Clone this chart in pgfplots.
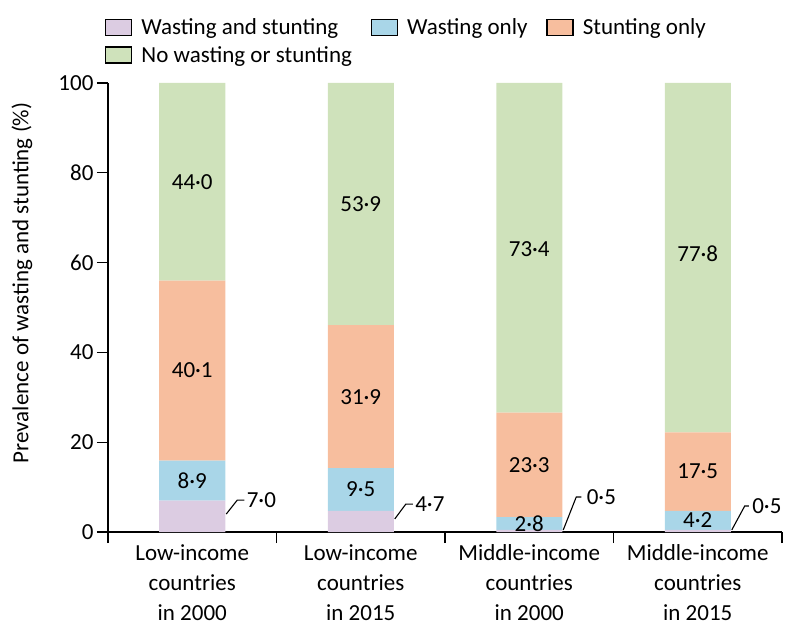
\documentclass[border=0pt]{standalone}
\usepackage{pgfplots}
\pgfplotsset{compat=1.18}
\usepackage{fontspec}
\setmainfont{Carlito}
\definecolor{cWS}{RGB}{220,204,226}
\definecolor{cW}{RGB}{169,214,232}
\definecolor{cS}{RGB}{247,190,158}
\definecolor{cN}{RGB}{207,226,187}
\newcommand{\fs}{\fontsize{23}{30}\selectfont}
\begin{document}
\begin{tikzpicture}[font=\fs]
\useasboundingbox (-108pt,-111pt) rectangle (692pt,532pt);
\begin{axis}[
  at={(0,0)}, anchor=south west,
  scale only axis, width=674pt, height=449pt,
  ybar stacked, bar width=66pt,
  xmin=-0.5, xmax=3.5, ymin=0, ymax=100,
  axis lines*=left,
  axis line style={line width=1.3pt},
  tick style={line width=1.3pt, black},
  tick align=outside, major tick length=11pt,
  ytick={0,20,40,60,80,100},
  /pgf/number format/assume math mode=true,
  yticklabel style={font=\fs},
  xtick={-0.5,0.5,1.5,2.5,3.5}, xticklabels={},
  extra x ticks={0,1,2,3},
  extra x tick labels={{Low-income\\countries\\in 2000},{Low-income\\countries\\in 2015},{Middle-income\\countries\\in 2000},{Middle-income\\countries\\in 2015}},
  extra x tick style={major tick length=0pt, xticklabel style={align=center, font=\fs, yshift=-9pt}},
  ylabel={Prevalence of wasting and stunting (\%)},
  ylabel style={at={(axis description cs:-0.1276,0.555)}, anchor=center, font=\fs},
  legend columns=3,
  legend cell align=left,
  legend style={at={(axis description cs:-0.009,1.152)}, anchor=north west, draw=none, fill=none, font=\fs,
    nodes={inner sep=2pt}, row sep=6pt,
    /tikz/every odd column/.append style={column sep=7pt},
    /tikz/every even column/.append style={column sep=17pt}},
  legend image code/.code={\draw[#1, draw=black, line width=1.3pt] (0pt,-8pt) rectangle (26pt,8pt);},
  after end axis/.code={
    \node[font=\fs] at (axis cs:0,11.45) {8·9};
    \node[font=\fs] at (axis cs:0,35.95) {40·1};
    \node[font=\fs] at (axis cs:0,78.0) {44·0};
    \node[font=\fs] at (axis cs:1,9.45) {9·5};
    \node[font=\fs] at (axis cs:1,30.15) {31·9};
    \node[font=\fs] at (axis cs:1,73.05) {53·9};
    \node[font=\fs] at (axis cs:2,1.9) {2·8};
    \node[font=\fs] at (axis cs:2,14.95) {23·3};
    \node[font=\fs] at (axis cs:2,63.0) {73·4};
    \node[font=\fs] at (axis cs:3,2.6) {4·2};
    \node[font=\fs] at (axis cs:3,13.45) {17·5};
    \node[font=\fs] at (axis cs:3,62.0) {77·8};
    \draw[line width=1.1pt] ([xshift=34pt]axis cs:0,4.0) -- ([xshift=45pt]axis cs:0,7.1) -- ([xshift=52pt]axis cs:0,7.1) node[right, inner sep=2pt, font=\fs] {7·0};
    \draw[line width=1.1pt] ([xshift=34pt]axis cs:1,2.9) -- ([xshift=45pt]axis cs:1,6.2) -- ([xshift=52pt]axis cs:1,6.2) node[right, inner sep=2pt, font=\fs] {4·7};
    \draw[line width=1.1pt] ([xshift=34pt]axis cs:2,0.45) -- ([xshift=47pt]axis cs:2,7.8) -- ([xshift=52pt]axis cs:2,7.8) node[right, inner sep=5pt, font=\fs] {0·5};
    \draw[line width=1.1pt] ([xshift=34pt]axis cs:3,0.45) -- ([xshift=47pt]axis cs:3,5.8) -- ([xshift=51pt]axis cs:3,5.8) node[right, inner sep=3pt, font=\fs] {0·5};
  },
]
\addplot[fill=cWS, draw=none] coordinates {(0,7.0) (1,4.7) (2,0.5) (3,0.5)};
\addlegendentry{Wasting and stunting}
\addplot[fill=cW, draw=none] coordinates {(0,8.9) (1,9.5) (2,2.8) (3,4.2)};
\addlegendentry{Wasting only}
\addplot[fill=cS, draw=none] coordinates {(0,40.1) (1,31.9) (2,23.3) (3,17.5)};
\addlegendentry{Stunting only}
\addplot[fill=cN, draw=none] coordinates {(0,44.0) (1,53.9) (2,73.4) (3,77.8)};
\addlegendentry{No wasting or stunting}
\end{axis}
\end{tikzpicture}
\end{document}
